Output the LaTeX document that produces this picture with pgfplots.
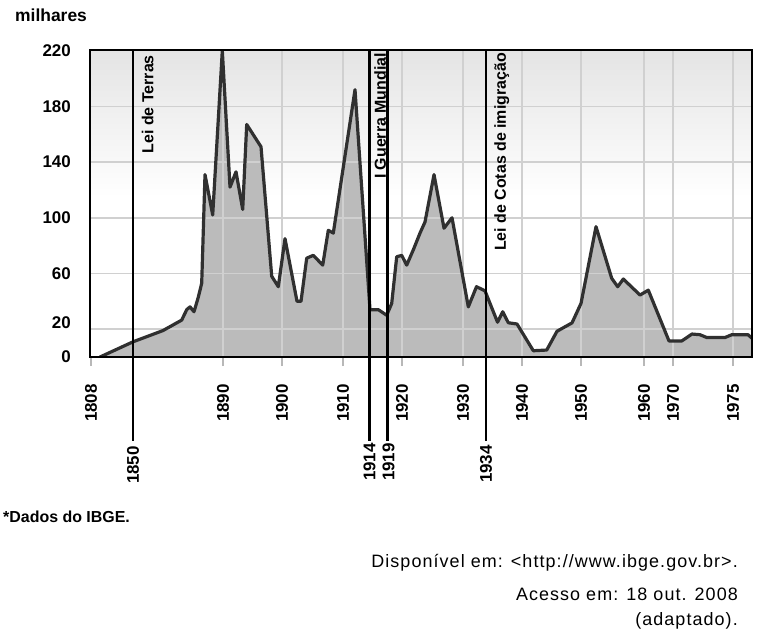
\documentclass[border=0pt]{standalone}
\usepackage{fontspec}
\setmainfont{Liberation Sans}
\usepackage{pgfplots}
\pgfplotsset{compat=1.18}
\usepackage{pgfplotstable}
\definecolor{fillgray}{HTML}{BBBBBB}
\definecolor{linegray}{HTML}{303030}
\definecolor{gridgray}{HTML}{D0D0D0}
\definecolor{bggray}{HTML}{E4E4E4}
\definecolor{tickgray}{HTML}{B8B8B8}

% x = horizontal position on the (non-linear) time axis, y = thousands of immigrants
\pgfplotstableread{
x y
100 0
133.3 11
163 19
181.7 26.5
186.7 34
190 36
194 32.5
198.3 43
201.7 53
205 131
212.7 102
222.3 220
230 122
236 133
242.7 106
246.7 167
261 151
271.7 58
278.3 50.5
285 85
297 40
301 40
306.7 71
313.3 73
322.7 66
328.3 91
333.3 89
355 192
370 34
378.3 34
386.7 30
391.7 38.5
396.7 72
401.7 73
406.7 66
413.3 77
420 89
425 97
434 131
444 92.5
452 100
468.3 36
476.5 50.5
485 47.5
497.5 25
502.7 32.5
508.3 24.6
517 23.7
533.3 4.5
546.7 5
557 18.5
572 24.5
581 38.5
596 93.6
611.7 56.5
617.7 50.5
623.3 56
640 44.5
648.3 48
669 11.5
681.7 11.5
692 16.5
700 16
706.7 14
725 14
731.7 16
748 16
752 13.5
}\imdata

\begin{document}
\begin{tikzpicture}[x=1bp,y=1bp]
\useasboundingbox (0,0) rectangle (758,-633);
\begin{axis}[
  at={(90bp,-357bp)}, anchor=south west,
  scale only axis, width=662bp, height=307bp,
  xmin=90, xmax=752, ymin=0, ymax=220.5,
  axis line style={line width=2.5bp, black},
  tick pos=left,
  tick align=outside,
  major tick length=9bp,
  xtick={91,223,282,343,402,463,522,581,644,673,733},
  xticklabels={1808,1890,1900,1910,1920,1930,1940,1950,1960,1970,1975},
  xtick style={tickgray, line width=1.5bp},
  xticklabel shift=18bp,
  xticklabel style={rotate=90, anchor=east, inner sep=0pt,
    font=\bfseries\fontsize{17}{17}\selectfont},
  ytick={0,20,60,100,140,180,220},
  yticklabels={0,\raisebox{6bp}[\height][\depth]{20},60,100,140,180,220},
  ytick style={draw=none},
  yticklabel shift=10bp,
  yticklabel style={anchor=east, inner sep=0pt,
    font=\bfseries\fontsize{17}{17}\selectfont},
  /pgf/number format/assume math mode=true,
]
\fill[top color=bggray, bottom color=white] (90,115) rectangle (752,220.5);
\addplot[fill=fillgray, draw=none] table {\imdata} \closedcycle;
\pgfplotsinvokeforeach{20,60,100,140,180}{
  \draw[gridgray, line width=1.6bp] (90,#1) -- (752,#1);
}
\pgfplotsinvokeforeach{223,282,343,402,463,522,581,644,673,733}{
  \draw[gridgray, line width=1.6bp] (#1,0) -- (#1,220.5);
}
\addplot[linegray, line width=3.2bp, line join=round, line cap=round] table {\imdata};
\end{axis}

% frame
\draw[black, line width=2.5bp] (90,-357) rectangle (752,-50);

% event lines
\foreach \ex in {133,369.5,387.5,486}{
  \draw[black, line width=2.2bp] (\ex,-50) -- (\ex,-441);
}
\begin{scope}[every node/.style={rotate=90, anchor=east, inner sep=0pt,
    font=\bfseries\fontsize{17}{17}\selectfont}]
\node at (133,-446) {1850};
\node at (369.5,-443) {1914};
\node at (388.5,-443) {1919};
\node at (486,-445) {1934};
\end{scope}
\begin{scope}[every node/.style={rotate=90, anchor=north east, inner sep=0pt,
    font=\bfseries\fontsize{16}{16}\selectfont}]
\node at (141.5,-55) {Lei de Terras};
\node at (374,-53) {I Guerra Mundial};
\node at (494,-53) {Lei de Cotas de imigração};
\end{scope}

\node[anchor=base west, inner sep=0pt, font=\bfseries\fontsize{17.5}{17.5}\selectfont]
  at (15,-22) {milhares};
\node[anchor=base west, inner sep=0pt, font=\bfseries\fontsize{16}{16}\selectfont]
  at (3,-522) {*Dados do IBGE.};
\begin{scope}[every node/.style={anchor=base east, inner sep=0pt,
    font=\fontsize{18}{18}\selectfont\addfontfeature{LetterSpace=6}}]
\node at (738,-567) {Disponível em: <http://www.ibge.gov.br>.};
\node at (738,-600) {Acesso em: 18 out. 2008};
\node at (738,-625) {(adaptado).};
\end{scope}
\end{tikzpicture}
\end{document}
